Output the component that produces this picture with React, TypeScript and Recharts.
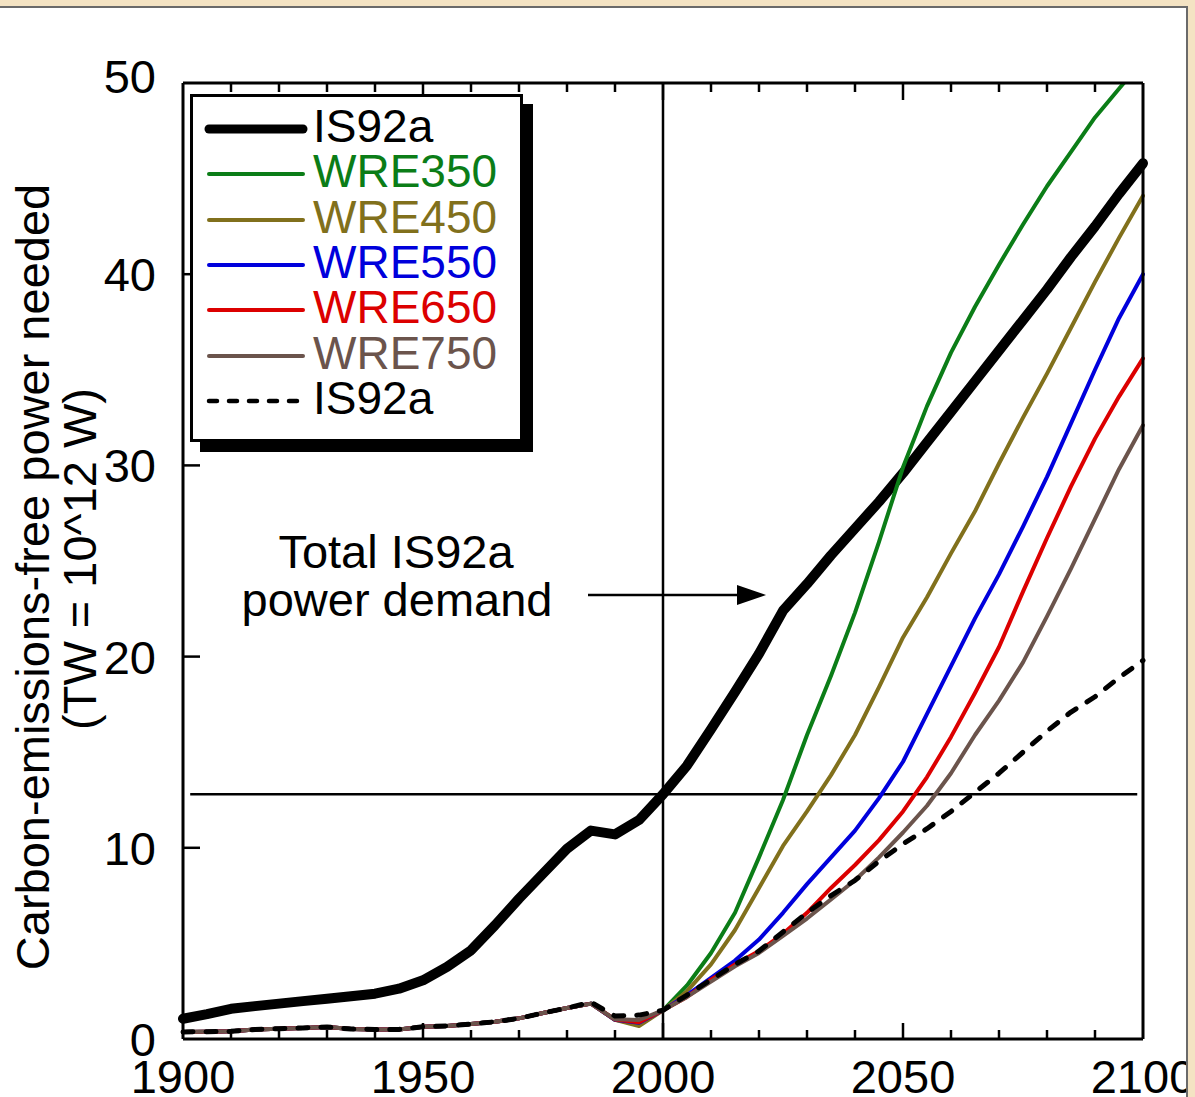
import { LineChart, Line, XAxis, YAxis, ReferenceLine } from 'recharts'

const FONT = '"Liberation Sans", Arial, Helvetica, sans-serif'

// years sampled every 5 years
const YEARS = [
  1900, 1905, 1910, 1915, 1920, 1925, 1930, 1935, 1940, 1945,
  1950, 1955, 1960, 1965, 1970, 1975, 1980, 1985, 1990, 1995,
  2000, 2005, 2010, 2015, 2020, 2025, 2030, 2035, 2040, 2045,
  2050, 2055, 2060, 2065, 2070, 2075, 2080, 2085, 2090, 2095, 2100,
]

// total IS92a power demand (thick black)
const IS92A_TOTAL = [
  1.06, 1.3, 1.58, 1.72, 1.85, 1.98, 2.1, 2.24, 2.37, 2.63,
  3.07, 3.77, 4.64, 5.95, 7.34, 8.65, 9.95, 10.9, 10.7, 11.45,
  12.8, 14.3, 16.2, 18.15, 20.15, 22.4, 23.8, 25.3, 26.7, 28.1,
  29.6, 31.2, 32.8, 34.4, 36.0, 37.6, 39.2, 40.9, 42.5, 44.2, 45.8,
]

const WRE350 = [
  0.37, 0.38, 0.4, 0.5, 0.54, 0.58, 0.63, 0.52, 0.5, 0.5,
  0.64, 0.68, 0.78, 0.9, 1.08, 1.36, 1.62, 1.85, 1.0, 0.8,
  1.5, 2.8, 4.5, 6.6, 9.5, 12.5, 15.9, 19.0, 22.3, 26.0,
  29.9, 33.1, 35.9, 38.3, 40.5, 42.6, 44.6, 46.4, 48.2, 49.7, 51.2,
]

const WRE450 = [
  0.37, 0.38, 0.4, 0.5, 0.54, 0.58, 0.63, 0.52, 0.5, 0.5,
  0.64, 0.68, 0.78, 0.9, 1.08, 1.36, 1.62, 1.85, 1.0, 0.68,
  1.5, 2.5, 3.9, 5.7, 7.9, 10.1, 11.9, 13.8, 15.9, 18.4,
  21.0, 23.1, 25.4, 27.6, 30.1, 32.5, 34.8, 37.2, 39.6, 41.9, 44.1,
]

const WRE550 = [
  0.37, 0.38, 0.4, 0.5, 0.54, 0.58, 0.63, 0.52, 0.5, 0.5,
  0.64, 0.68, 0.78, 0.9, 1.08, 1.36, 1.62, 1.85, 1.0, 0.85,
  1.5, 2.3, 3.2, 4.1, 5.2, 6.6, 8.1, 9.5, 10.9, 12.6,
  14.5, 17.0, 19.5, 22.0, 24.3, 26.8, 29.4, 32.2, 35.0, 37.7, 40.0,
]

const WRE650 = [
  0.37, 0.38, 0.4, 0.5, 0.54, 0.58, 0.63, 0.52, 0.5, 0.5,
  0.64, 0.68, 0.78, 0.9, 1.08, 1.36, 1.62, 1.85, 1.02, 0.88,
  1.5, 2.2, 3.1, 3.9, 4.6, 5.5, 6.6, 7.9, 9.1, 10.4,
  11.9, 13.7, 15.8, 18.1, 20.5, 23.4, 26.2, 28.9, 31.4, 33.6, 35.6,
]

const WRE750 = [
  0.37, 0.38, 0.4, 0.5, 0.54, 0.58, 0.63, 0.52, 0.5, 0.5,
  0.64, 0.68, 0.78, 0.9, 1.08, 1.36, 1.62, 1.85, 1.03, 1.0,
  1.5, 2.2, 3.0, 3.8, 4.5, 5.4, 6.3, 7.3, 8.3, 9.5,
  10.8, 12.2, 13.9, 15.9, 17.7, 19.7, 22.1, 24.6, 27.2, 29.8, 32.1,
]

// carbon-free part of IS92a (dashed)
const IS92A_FREE = [
  0.37, 0.38, 0.4, 0.5, 0.54, 0.58, 0.63, 0.52, 0.5, 0.5,
  0.64, 0.68, 0.78, 0.9, 1.08, 1.36, 1.62, 1.92, 1.2, 1.25,
  1.5, 2.3, 3.1, 3.9, 4.6, 5.6, 6.6, 7.5, 8.3, 9.3,
  10.2, 11.0, 11.9, 12.9, 13.9, 15.0, 16.1, 17.1, 17.9, 18.9, 19.8,
]

const X_TICKS = [1900, 1910, 1920, 1930, 1940, 1950, 1960, 1970, 1980, 1990, 2000, 2010, 2020, 2030, 2040, 2050, 2060, 2070, 2080, 2090, 2100]
const X_LABELS = [1900, 1950, 2000, 2050, 2100]
const Y_TICKS = [0, 10, 20, 30, 40, 50]

const NOW_YEAR = 2000
const NOW_DEMAND = 12.8

const SERIES = [
  { key: 'total', name: 'IS92a', color: '#000000', width: 10, dash: undefined as string | undefined },
  { key: 'wre350', name: 'WRE350', color: '#0b7d17', width: 4, dash: undefined },
  { key: 'wre450', name: 'WRE450', color: '#81701c', width: 4, dash: undefined },
  { key: 'wre550', name: 'WRE550', color: '#0000dc', width: 4, dash: undefined },
  { key: 'wre650', name: 'WRE650', color: '#dc0000', width: 4, dash: undefined },
  { key: 'wre750', name: 'WRE750', color: '#6b544c', width: 4, dash: undefined },
  { key: 'free', name: 'IS92a', color: '#000000', width: 5, dash: '10 13' },
]

const data = YEARS.map((year, i) => ({
  year,
  total: IS92A_TOTAL[i],
  wre350: WRE350[i],
  wre450: WRE450[i],
  wre550: WRE550[i],
  wre650: WRE650[i],
  wre750: WRE750[i],
  free: IS92A_FREE[i],
}))

function BottomTick(props: any) {
  const { x, y, payload } = props
  const v = payload.value
  const major = v % 50 === 0
  return (
    <g>
      {v > 1900 && v < 2100 && (
        <line x1={x} x2={x} y1={y} y2={y - (major ? 16 : 9)} stroke="#000" strokeWidth={2.5} />
      )}
      {X_LABELS.includes(v) && (
        <text x={x} y={y + 54} textAnchor="middle" fontSize={47} fontFamily={FONT} fill="#000">
          {v}
        </text>
      )}
    </g>
  )
}

function TopTick(props: any) {
  const { x, y, payload } = props
  const v = payload.value
  if (v <= 1900 || v >= 2100) return <g />
  const major = v % 50 === 0
  return <line x1={x} x2={x} y1={y} y2={y + (major ? 17 : 9)} stroke="#000" strokeWidth={2.5} />
}

function LeftTick(props: any) {
  const { x, y, payload } = props
  const v = payload.value
  return (
    <g>
      {v > 0 && v < 50 && <line x1={x} x2={x + 17} y1={y} y2={y} stroke="#000" strokeWidth={2.5} />}
      <text x={x - 27} y={y + (v === 50 ? 10 : 17)} textAnchor="end" fontSize={47} fontFamily={FONT} fill="#000">
        {v}
      </text>
    </g>
  )
}

function RightTick(props: any) {
  const { x, y, payload } = props
  const v = payload.value
  if (v <= 0 || v >= 50) return <g />
  return <line x1={x} x2={x - 17} y1={y} y2={y} stroke="#000" strokeWidth={2.5} />
}

function LegendBox() {
  return (
    <div
      style={{
        position: 'absolute',
        left: 190,
        top: 92,
        width: 333,
        height: 348,
        boxSizing: 'border-box',
        border: '3px solid #000',
        background: '#fff',
        boxShadow: '10px 10px 0 #000',
        paddingTop: 7,
        fontFamily: FONT,
      }}
    >
      {SERIES.map((s, i) => (
        <div key={i} style={{ display: 'flex', alignItems: 'center', height: 45.3 }}>
          <svg width={106} height={45} style={{ marginLeft: 10, flexShrink: 0 }}>
            <line
              x1={6}
              x2={100}
              y1={25}
              y2={25}
              stroke={s.color}
              strokeWidth={s.key === 'total' ? 9 : s.dash ? 4.5 : 4}
              strokeDasharray={s.dash ? '8 12' : undefined}
              strokeLinecap="round"
            />
          </svg>
          <span style={{ fontSize: 46, lineHeight: '45px', color: s.color, marginLeft: 4 }}>{s.name}</span>
        </div>
      ))}
    </div>
  )
}

export default function App() {
  return (
    <div
      style={{
        position: 'absolute',
        left: 0,
        top: 0,
        width: 1195,
        height: 1097,
        background: '#f4e3c3',
        overflow: 'hidden',
      }}
    >
      <div
        style={{
          position: 'absolute',
          left: 0,
          top: 6,
          width: 1188,
          height: 1097,
          background: '#ffffff',
          borderTop: '2px solid #6a6a6a',
          borderRight: '2px solid #6a6a6a',
          boxSizing: 'border-box',
          overflow: 'hidden',
        }}
      >
        <div style={{ position: 'absolute', left: 0, top: -6, width: 1195, height: 1097 }}>
          <LineChart width={1195} height={1097} data={data} margin={{ top: 0, right: 0, bottom: 0, left: 0 }}>
            <XAxis
              xAxisId="bottom"
              dataKey="year"
              type="number"
              domain={[1900, 2100]}
              ticks={X_TICKS}
              interval={0}
              height={60}
              tickSize={0}
              tickMargin={0}
              tickLine={false}
              tick={<BottomTick />}
              axisLine={{ stroke: '#000', strokeWidth: 3 }}
            />
            <XAxis
              xAxisId="top"
              orientation="top"
              dataKey="year"
              type="number"
              domain={[1900, 2100]}
              ticks={X_TICKS}
              interval={0}
              height={81}
              tickSize={0}
              tickMargin={0}
              tickLine={false}
              tick={<TopTick />}
              axisLine={{ stroke: '#000', strokeWidth: 3 }}
            />
            <YAxis
              yAxisId="left"
              type="number"
              domain={[0, 50]}
              ticks={Y_TICKS}
              interval={0}
              allowDataOverflow
              width={183}
              tickSize={0}
              tickMargin={0}
              tickLine={false}
              tick={<LeftTick />}
              axisLine={{ stroke: '#000', strokeWidth: 3 }}
            />
            <YAxis
              yAxisId="right"
              orientation="right"
              type="number"
              domain={[0, 50]}
              ticks={Y_TICKS}
              interval={0}
              width={52}
              tickSize={0}
              tickMargin={0}
              tickLine={false}
              tick={<RightTick />}
              axisLine={{ stroke: '#000', strokeWidth: 3 }}
            />
            <ReferenceLine xAxisId="bottom" yAxisId="left" x={NOW_YEAR} stroke="#000" strokeWidth={2.5} />
            <ReferenceLine
              xAxisId="bottom"
              yAxisId="left"
              segment={[
                { x: 1901.5, y: NOW_DEMAND },
                { x: 2098.8, y: NOW_DEMAND },
              ]}
              stroke="#000"
              strokeWidth={2.5}
            />
            {SERIES.map((s) => (
              <Line
                key={s.key}
                xAxisId="bottom"
                yAxisId="left"
                type="linear"
                dataKey={s.key}
                name={s.name}
                stroke={s.color}
                strokeWidth={s.width}
                strokeDasharray={s.dash}
                strokeLinecap="round"
                strokeLinejoin="round"
                dot={false}
                activeDot={false}
                isAnimationActive={false}
              />
            ))}
          </LineChart>
          <svg
            width={1195}
            height={1097}
            style={{ position: 'absolute', left: 0, top: 0, pointerEvents: 'none' }}
            fontFamily={FONT}
          >
            <text x={49} y={575} transform="rotate(-90 49 575)" textAnchor="middle" fontSize={47} fill="#000">
              Carbon-emissions-free power needed
            </text>
            <text x={96} y={557} transform="rotate(-90 96 557)" textAnchor="middle" fontSize={47} fill="#000">
              (TW = 10^12 W)
            </text>
            <text x={396} y={566} textAnchor="middle" fontSize={47} fill="#000">
              Total IS92a
            </text>
            <text x={397} y={614} textAnchor="middle" fontSize={47} fill="#000">
              power demand
            </text>
            <line x1={588} x2={742} y1={593} y2={593} stroke="#000" strokeWidth={2.5} />
            <polygon points="766,593 737,583 737,603" fill="#000" />
          </svg>
          <LegendBox />
        </div>
      </div>
    </div>
  )
}
